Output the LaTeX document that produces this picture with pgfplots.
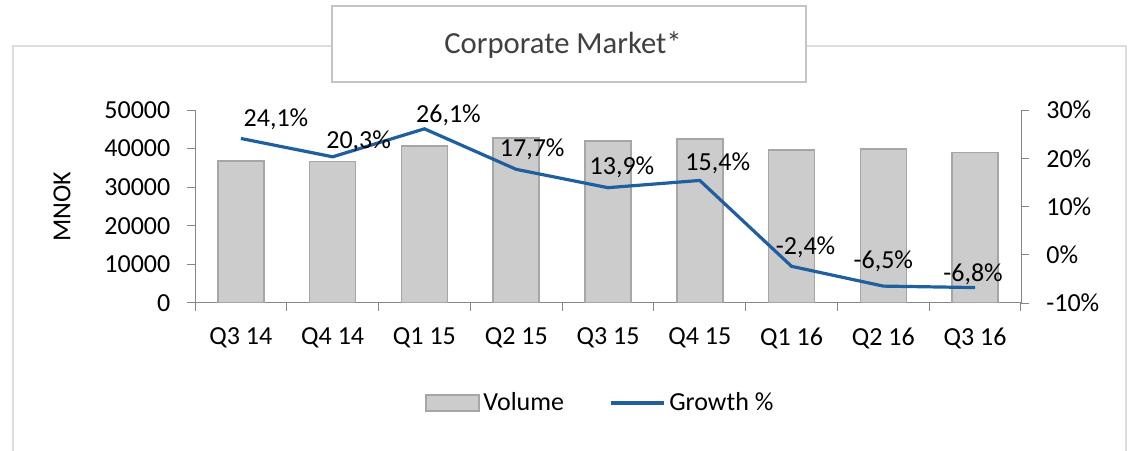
\documentclass[border=0pt]{standalone}
\usepackage{pgfplots}
\pgfplotsset{compat=1.18}
\usepackage{pgfplotstable}
\usepackage{fontspec}
\setmainfont{Carlito}
\definecolor{bargray}{HTML}{CCCCCC}
\definecolor{baredge}{HTML}{A6A6A6}
\definecolor{axisgray}{HTML}{868686}
\definecolor{lineblue}{HTML}{1F5F9F}
\definecolor{framegray}{HTML}{DDDDDD}
\definecolor{boxgray}{HTML}{C4C4C4}
\definecolor{titlegray}{HTML}{404040}

\pgfplotstableread{
x vol
0 36800
1 36700
2 40700
3 42800
4 42000
5 42500
6 39700
7 39900
8 39000
}\voltable

\pgfplotstableread{
x g dx dy
0 24.1 26.3 14.3
1 20.3 19.5 12.0
2 26.1 18.0 10.5
3 17.7 12.0 15.0
4 13.9 10.5 15.0
5 15.4 13.5 12.75
6 -2.4 10.5 14.25
7 -6.5 0.0 18.75
8 -6.8 -1.5 9.75
}\growthtable

\newcommand{\tfont}{\fontsize{19.5}{23}\selectfont}

\begin{document}
\begin{tikzpicture}
\path[use as bounding box] (0,0) rectangle (846pt,337.5pt);
\begin{scope}[x=0.75pt,y=-0.75pt,shift={(0pt,337.5pt)}]
\draw[framegray, line width=1.5pt] (13,452) -- (13,46) -- (1126,46) -- (1126,452);
\filldraw[fill=white, draw=boxgray, line width=1.2pt] (332,6) rectangle (806,82);
\node[font=\fontsize{23}{27}\selectfont, text=titlegray] at (563,45) {Corporate Market*};
\end{scope}

\begin{axis}[
 at={(146.25pt,110.25pt)}, anchor=south west,
 scale only axis, width=619.5pt, height=144.75pt,
 xmin=-0.5, xmax=8.5, ymin=0, ymax=50000,
 axis x line*=bottom, axis y line*=left,
 axis line style={draw=axisgray, line width=0.75pt, -},
 tick style={draw=axisgray, line width=0.75pt},
 tick align=outside, major tick length=6pt,
 xtick={-0.5,0.5,1.5,2.5,3.5,4.5,5.5,6.5,7.5,8.5},
 x tick label as interval,
 xticklabels={Q3 14,Q4 14,Q1 15,Q2 15,Q3 15,Q4 15,Q1 16,Q2 16,Q3 16},
 xticklabel style={yshift=-9pt},
 ytick={0,10000,20000,30000,40000,50000},
 scaled y ticks=false,
 yticklabel style={xshift=-9pt, /pgf/number format/1000 sep={}, /pgf/number format/assume math mode=true},
 ticklabel style={font=\tfont},
 ylabel={MNOK},
 ylabel style={font=\tfont, at={(axis description cs:-0.161,0.5)}, anchor=center},
 ybar, bar width=34.5pt,
]
\addplot[fill=bargray, draw=baredge, line width=1.2pt] table[x=x,y=vol]{\voltable};
\end{axis}

\begin{axis}[
 at={(146.25pt,110.25pt)}, anchor=south west,
 scale only axis, width=619.5pt, height=144.75pt,
 xmin=-0.5, xmax=8.5, ymin=-10, ymax=30,
 axis y line*=right, axis x line=none,
 axis line style={draw=axisgray, line width=0.75pt, -},
 tick style={draw=axisgray, line width=0.75pt},
 tick align=outside, major tick length=6pt,
 ytick={-10,0,10,20,30},
 yticklabel={\pgfmathprintnumber[assume math mode=true]{\tick}\%},
 yticklabel style={xshift=9.5pt},
 ticklabel style={font=\tfont},
 clip=false,
 legend style={at={(0.4915,-0.518)}, anchor=center, draw=none, fill=none, font=\tfont,
   legend columns=2, /tikz/every even column/.append style={column sep=31.5pt},
   nodes={inner sep=2.5pt}},
 legend cell align=left,
]
\addplot[lineblue, line width=2.4pt, mark=none, forget plot,
  visualization depends on={\thisrow{dx}\as\labeldx},
  visualization depends on={\thisrow{dy}\as\labeldy},
  nodes near coords={\pgfmathprintnumber[fixed, fixed zerofill, precision=1, use comma, assume math mode=true]{\pgfplotspointmeta}\%},
  nodes near coords style={font=\tfont, text=black, anchor=center, inner sep=0pt, xshift=\labeldx, yshift=\labeldy},
  ] table[x=x,y=g]{\growthtable};
\addlegendimage{legend image code/.code={\draw[fill=bargray, draw=baredge, line width=1.2pt] (0pt,-6pt) rectangle (40pt,6pt);}}
\addlegendentry{Volume}
\addlegendimage{legend image code/.code={\draw[lineblue, line width=2.4pt] (0pt,0pt) -- (40pt,0pt);}}
\addlegendentry{Growth \%}
\end{axis}
\end{tikzpicture}
\end{document}
